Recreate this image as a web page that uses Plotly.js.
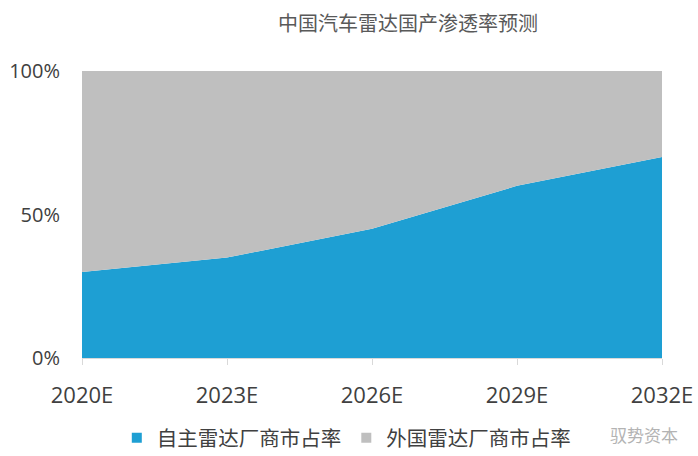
<!DOCTYPE html>
<html>
<head>
<meta charset="utf-8">
<script src="https://cdn.plot.ly/plotly-3.0.1.min.js"></script>
<style>html,body{margin:0;padding:0;background:#fff;}#chart{width:698px;height:456px;}</style>
</head>
<body>
<div id="chart"></div>
<script>
const categories = ['2020E', '2023E', '2026E', '2029E', '2032E'];
const domesticShare = [30, 35, 45, 60, 70];
const foreignShare = [70, 65, 55, 40, 30];
const seriesNames = ['自主雷达厂商市占率', '外国雷达厂商市占率'];
const yTickVals = [0, 50, 100];
const yTickText = ['0%', '50%', '100%'];

const blue = '#1E9FD3';
const gray = '#BFBFBF';
const txt = '#404040';
const numFont = '"Open Sans", "Noto Sans", sans-serif';
const cjkFont = '"Noto Sans CJK SC", "Noto Sans", sans-serif';

const traces = [
  {x: categories, y: domesticShare, type: 'scatter', mode: 'none', stackgroup: 'one',
   fillcolor: blue, line: {width: 0}, showlegend: false, hoverinfo: 'skip'},
  {x: categories, y: foreignShare, type: 'scatter', mode: 'none', stackgroup: 'one',
   fillcolor: gray, line: {width: 0}, showlegend: false, hoverinfo: 'skip'},
  {x: [null], y: [null], type: 'scatter', mode: 'markers', name: seriesNames[0],
   marker: {symbol: 'square', size: 10, color: blue}},
  {x: [null], y: [null], type: 'scatter', mode: 'markers', name: seriesNames[1],
   marker: {symbol: 'square', size: 10, color: gray}}
];

const layout = {
  width: 698, height: 456,
  margin: {l: 82, r: 36, t: 71, b: 98},
  paper_bgcolor: '#fff', plot_bgcolor: '#fff',
  title: {text: '中国汽车雷达国产渗透率预测', font: {family: cjkFont, size: 20, color: '#595959'},
          xref: 'container', x: 0.5845, xanchor: 'center',
          yref: 'container', y: 0.947, yanchor: 'middle'},
  xaxis: {type: 'category', range: [0, 4], showgrid: false, zeroline: false,
          showline: true, linecolor: '#d9d9d9', linewidth: 1,
          ticks: 'outside', ticklen: 6, tickcolor: '#d9d9d9',
          tickfont: {family: numFont, size: 22, color: txt}, ticklabelstandoff: 12},
  yaxis: {range: [0, 100], tickvals: yTickVals, ticktext: yTickText, showgrid: false,
          zeroline: false, showline: false, ticks: '',
          tickfont: {family: numFont, size: 20, color: txt}, ticklabelstandoff: 21},
  showlegend: true,
  legend: {orientation: 'h', traceorder: 'normal', x: 0.06, xanchor: 'left',
           yref: 'container', y: 0.0395, yanchor: 'middle',
           font: {family: cjkFont, size: 20.5, color: txt}, itemwidth: 30, tracegroupgap: 0,
           bgcolor: 'rgba(0,0,0,0)'},
  annotations: [
    {text: '驭势资本', xref: 'paper', yref: 'paper', x: 0.907, y: -0.267,
     xanchor: 'left', yanchor: 'middle', showarrow: false,
     font: {family: cjkFont, size: 17, color: '#b3b3b3'}}
  ]
};

Plotly.newPlot('chart', traces, layout, {displayModeBar: false, staticPlot: true});
</script>
</body>
</html>
